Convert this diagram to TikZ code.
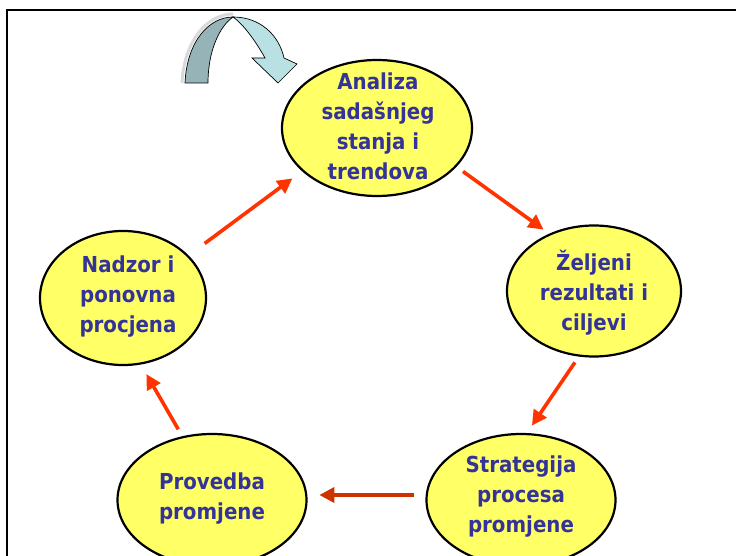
\documentclass[tikz,border=0pt]{standalone}
\usepackage{fontspec}
\setmainfont{DejaVu Sans Condensed}
\usetikzlibrary{shapes.geometric, arrows.meta}
\definecolor{myyellow}{RGB}{255,255,102}
\definecolor{myink}{RGB}{51,51,153}
\definecolor{myorange}{RGB}{255,51,0}
\definecolor{mybrick}{RGB}{204,51,0}
\definecolor{myteal}{RGB}{150,180,184}
\definecolor{mylightteal}{RGB}{185,225,228}

\begin{document}
\begin{tikzpicture}[
   x=1pt, y=-1pt,
         stepNode/.style  = {ellipse, draw=black, fill=myyellow, line width=2.2pt, inner sep=0pt},
         stepText/.style  = {align=center, text=myink, font=\fontsize{22}{30}\selectfont\bfseries},
         myarrow/.style   = {draw=myorange, line width=3.6pt, -{Triangle[length=15pt,width=15pt]}}
]
    \useasboundingbox (0,0) rectangle (736,556);

    % frame
    \draw[line width=1.8pt] (7,556) -- (7,10) -- (736,10);

    % curved arrow at the top
    \draw[gray!30, line width=3pt] (182,83) .. controls (184,40) and (208,14) .. (233,14);
    \draw[fill=myteal, line width=0.7pt] (185,83) .. controls (187,40) and (210,17) .. (233,17)
        .. controls (220,26) and (208,50) .. (208,83) -- cycle;
    \draw[fill=mylightteal, line width=0.7pt] (233,17) .. controls (260,17) and (279,35) .. (284,58)
        -- (297,64) -- (278,83) -- (252,58) -- (265,58)
        .. controls (255,40) and (243,24) .. (233,17) -- cycle;

    % the five steps
    \node[stepNode, minimum width=190pt, minimum height=136pt] (ana) at (377,128) {};
    \node[stepText] (anaT) at (378,126) {Analiza\\sadašnjeg\\stanja i\\trendova};

    \node[stepNode, minimum width=174pt, minimum height=131pt] (zel) at (594,291) {};
    \node[stepText] (zelT) at (594,293) {Željeni\\rezultati i\\ciljevi};

    \node[stepNode, minimum width=189pt, minimum height=132pt] (str) at (521,500) {};
    \node[stepText] (strT) at (521,497) {Strategija\\procesa\\promjene};

    \node[stepNode, minimum width=189pt, minimum height=132pt] (pro) at (212,500) {};
    \node[stepText] (proT) at (212,499) {Provedba\\promjene};

    \node[stepNode, minimum width=166pt, minimum height=134pt] (nad) at (123,298) {};
    \node[stepText] (nadT) at (128,297) {Nadzor i\\ponovna\\procjena};

    % cycle
    \draw[myarrow, shorten <=8pt, shorten >=7pt] (ana.-26) -- (zel.128);
    \draw[myarrow, shorten <=7pt, shorten >=9pt] (zel.-103) -- (str.85);
    \draw[myarrow, draw=mybrick, shorten <=12pt, shorten >=12pt] (str.177) -- (pro.3);
    \draw[myarrow, shorten <=8pt, shorten >=11pt] (pro.115) -- (nad.-75);
    \draw[myarrow, shorten <=20pt, shorten >=12pt] (nad.33) -- (ana.210);
\end{tikzpicture}
\end{document}
